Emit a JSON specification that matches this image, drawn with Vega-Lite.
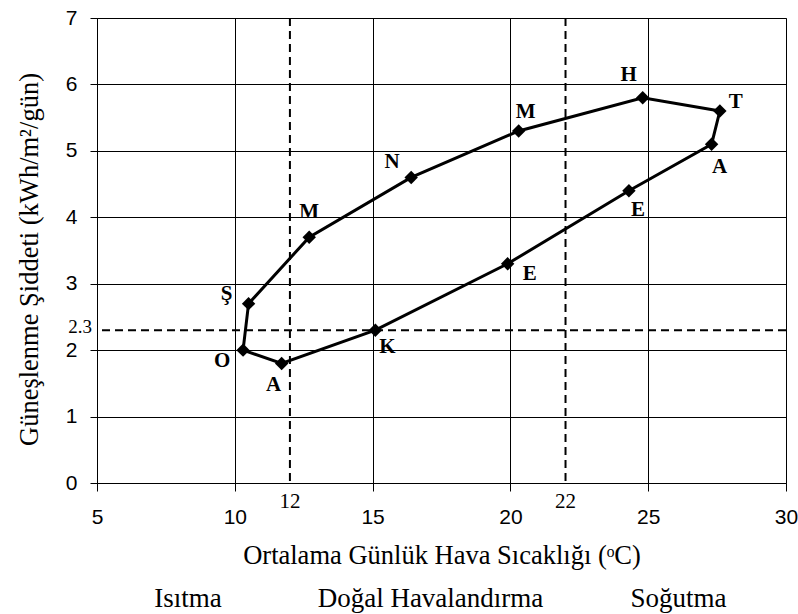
{
  "$schema": "https://vega.github.io/schema/vega-lite/v6.json",
  "width": 689,
  "height": 465,
  "autosize": {"type": "none"},
  "padding": {"left": 97, "top": 18, "right": 12, "bottom": 131},
  "background": "white",
  "config": {"view": {"stroke": "#808080", "strokeWidth": 1}},
  "datasets": {
    "months": [
      {"n": 1, "month": "Ocak", "label": "O", "temp": 10.3, "sun": 2.0},
      {"n": 2, "month": "Şubat", "label": "Ş", "temp": 10.5, "sun": 2.7},
      {"n": 3, "month": "Mart", "label": "M", "temp": 12.7, "sun": 3.7},
      {"n": 4, "month": "Nisan", "label": "N", "temp": 16.4, "sun": 4.6},
      {"n": 5, "month": "Mayıs", "label": "M", "temp": 20.3, "sun": 5.3},
      {"n": 6, "month": "Haziran", "label": "H", "temp": 24.8, "sun": 5.8},
      {"n": 7, "month": "Temmuz", "label": "T", "temp": 27.6, "sun": 5.6},
      {"n": 8, "month": "Ağustos", "label": "A", "temp": 27.3, "sun": 5.1},
      {"n": 9, "month": "Eylül", "label": "E", "temp": 24.3, "sun": 4.4},
      {"n": 10, "month": "Ekim", "label": "E", "temp": 19.9, "sun": 3.3},
      {"n": 11, "month": "Kasım", "label": "K", "temp": 15.1, "sun": 2.3},
      {"n": 12, "month": "Aralık", "label": "A", "temp": 11.7, "sun": 1.8},
      {"n": 13, "month": "Ocak", "label": "O", "temp": 10.3, "sun": 2.0}
    ],
    "vlines": [{"temp": 12, "label": "12"}, {"temp": 22, "label": "22"}],
    "hline": [{"sun": 2.3, "label": "2.3"}],
    "regions": [
      {"region": "Isıtma", "temp": 8.3},
      {"region": "Doğal Havalandırma", "temp": 17.1},
      {"region": "Soğutma", "temp": 26.1}
    ]
  },
  "layer": [
    {
      "data": {"name": "months"},
      "mark": {"type": "line", "color": "black", "strokeWidth": 3},
      "encoding": {
        "x": {
          "field": "temp", "type": "quantitative",
          "scale": {"domain": [5, 30], "nice": false, "zero": false},
          "axis": {
            "values": [5, 10, 15, 20, 25, 30], "format": "d",
            "grid": true, "gridColor": "black", "gridWidth": 1,
            "domainColor": "black", "tickColor": "black", "tickSize": 8,
            "labelFont": "Liberation Sans", "labelFontSize": 21, "labelColor": "black",
            "labelBaseline": "alphabetic", "labelPadding": 32, "labelFlush": false, "labelOverlap": false,
            "title": "Ortalama Günlük Hava Sıcaklığı (ᵒC)",
            "titleFont": "Liberation Serif", "titleFontSize": 26.5, "titleFontWeight": "normal",
            "titleColor": "black", "titleY": 80, "titleBaseline": "alphabetic"
          }
        },
        "y": {
          "field": "sun", "type": "quantitative",
          "scale": {"domain": [0, 7], "nice": false, "zero": false},
          "axis": {
            "values": [0, 1, 2, 3, 4, 5, 6, 7], "format": "d",
            "grid": true, "gridColor": "black", "gridWidth": 1,
            "domainColor": "black", "tickColor": "black", "tickSize": 7,
            "labelFont": "Liberation Sans", "labelFontSize": 21, "labelColor": "black",
            "labelPadding": 13, "labelFlush": false, "labelOverlap": false,
            "title": "Güneşlenme Şiddeti (kWh/m²/gün)",
            "titleFont": "Liberation Serif", "titleFontSize": 26.5, "titleFontWeight": "normal",
            "titleColor": "black", "titleX": -60, "titleY": 241, "titleBaseline": "alphabetic",
            "titleAlign": "center", "titleAngle": -90
          }
        },
        "order": {"field": "n", "type": "quantitative"}
      }
    },
    {
      "data": {"name": "months"},
      "transform": [{"filter": "datum.n <= 12"}],
      "mark": {"type": "point", "shape": "diamond", "filled": true, "color": "black", "size": 180, "opacity": 1},
      "encoding": {
        "x": {"field": "temp", "type": "quantitative"},
        "y": {"field": "sun", "type": "quantitative"}
      }
    },
    {
      "data": {"name": "vlines"},
      "mark": {"type": "rule", "color": "black", "strokeWidth": 2, "strokeDash": [8, 5]},
      "encoding": {"x": {"field": "temp", "type": "quantitative"}}
    },
    {
      "data": {"name": "hline"},
      "mark": {"type": "rule", "color": "black", "strokeWidth": 2, "strokeDash": [8, 5]},
      "encoding": {"y": {"field": "sun", "type": "quantitative"}}
    },
    {
      "data": {"name": "vlines"},
      "mark": {"type": "text", "font": "Liberation Serif", "fontSize": 21, "color": "black", "baseline": "alphabetic", "align": "center", "dy": 25},
      "encoding": {
        "x": {"field": "temp", "type": "quantitative"},
        "y": {"datum": 0},
        "text": {"field": "label"}
      }
    },
    {
      "data": {"name": "hline"},
      "mark": {"type": "text", "font": "Liberation Serif", "fontSize": 19, "color": "black", "baseline": "middle", "align": "right", "dx": -5, "dy": -3},
      "encoding": {
        "x": {"datum": 5},
        "y": {"field": "sun", "type": "quantitative"},
        "text": {"field": "label"}
      }
    },
    {
      "data": {"name": "regions"},
      "mark": {"type": "text", "font": "Liberation Serif", "fontSize": 27, "color": "black", "baseline": "alphabetic", "align": "center", "dy": 124},
      "encoding": {
        "x": {"field": "temp", "type": "quantitative"},
        "y": {"datum": 0},
        "text": {"field": "region"}
      }
    },
    {"data": {"name": "months"}, "transform": [{"filter": "datum.n == 1"}],
     "mark": {"type": "text", "font": "Liberation Serif", "fontWeight": "bold", "fontSize": 21, "color": "black", "baseline": "middle", "dx": -21, "dy": 11},
     "encoding": {"x": {"field": "temp", "type": "quantitative"}, "y": {"field": "sun", "type": "quantitative"}, "text": {"field": "label"}}},
    {"data": {"name": "months"}, "transform": [{"filter": "datum.n == 2"}],
     "mark": {"type": "text", "font": "Liberation Serif", "fontWeight": "bold", "fontSize": 21, "color": "black", "baseline": "middle", "dx": -22, "dy": -10},
     "encoding": {"x": {"field": "temp", "type": "quantitative"}, "y": {"field": "sun", "type": "quantitative"}, "text": {"field": "label"}}},
    {"data": {"name": "months"}, "transform": [{"filter": "datum.n == 3"}],
     "mark": {"type": "text", "font": "Liberation Serif", "fontWeight": "bold", "fontSize": 21, "color": "black", "baseline": "middle", "dx": 0, "dy": -25},
     "encoding": {"x": {"field": "temp", "type": "quantitative"}, "y": {"field": "sun", "type": "quantitative"}, "text": {"field": "label"}}},
    {"data": {"name": "months"}, "transform": [{"filter": "datum.n == 4"}],
     "mark": {"type": "text", "font": "Liberation Serif", "fontWeight": "bold", "fontSize": 21, "color": "black", "baseline": "middle", "dx": -19, "dy": -15},
     "encoding": {"x": {"field": "temp", "type": "quantitative"}, "y": {"field": "sun", "type": "quantitative"}, "text": {"field": "label"}}},
    {"data": {"name": "months"}, "transform": [{"filter": "datum.n == 5"}],
     "mark": {"type": "text", "font": "Liberation Serif", "fontWeight": "bold", "fontSize": 21, "color": "black", "baseline": "middle", "dx": 7, "dy": -19},
     "encoding": {"x": {"field": "temp", "type": "quantitative"}, "y": {"field": "sun", "type": "quantitative"}, "text": {"field": "label"}}},
    {"data": {"name": "months"}, "transform": [{"filter": "datum.n == 6"}],
     "mark": {"type": "text", "font": "Liberation Serif", "fontWeight": "bold", "fontSize": 21, "color": "black", "baseline": "middle", "dx": -14, "dy": -23},
     "encoding": {"x": {"field": "temp", "type": "quantitative"}, "y": {"field": "sun", "type": "quantitative"}, "text": {"field": "label"}}},
    {"data": {"name": "months"}, "transform": [{"filter": "datum.n == 7"}],
     "mark": {"type": "text", "font": "Liberation Serif", "fontWeight": "bold", "fontSize": 21, "color": "black", "baseline": "middle", "dx": 16, "dy": -9},
     "encoding": {"x": {"field": "temp", "type": "quantitative"}, "y": {"field": "sun", "type": "quantitative"}, "text": {"field": "label"}}},
    {"data": {"name": "months"}, "transform": [{"filter": "datum.n == 8"}],
     "mark": {"type": "text", "font": "Liberation Serif", "fontWeight": "bold", "fontSize": 21, "color": "black", "baseline": "middle", "dx": 8, "dy": 23},
     "encoding": {"x": {"field": "temp", "type": "quantitative"}, "y": {"field": "sun", "type": "quantitative"}, "text": {"field": "label"}}},
    {"data": {"name": "months"}, "transform": [{"filter": "datum.n == 9"}],
     "mark": {"type": "text", "font": "Liberation Serif", "fontWeight": "bold", "fontSize": 21, "color": "black", "baseline": "middle", "dx": 9, "dy": 19},
     "encoding": {"x": {"field": "temp", "type": "quantitative"}, "y": {"field": "sun", "type": "quantitative"}, "text": {"field": "label"}}},
    {"data": {"name": "months"}, "transform": [{"filter": "datum.n == 10"}],
     "mark": {"type": "text", "font": "Liberation Serif", "fontWeight": "bold", "fontSize": 21, "color": "black", "baseline": "middle", "dx": 22, "dy": 10},
     "encoding": {"x": {"field": "temp", "type": "quantitative"}, "y": {"field": "sun", "type": "quantitative"}, "text": {"field": "label"}}},
    {"data": {"name": "months"}, "transform": [{"filter": "datum.n == 11"}],
     "mark": {"type": "text", "font": "Liberation Serif", "fontWeight": "bold", "fontSize": 21, "color": "black", "baseline": "middle", "dx": 12, "dy": 17},
     "encoding": {"x": {"field": "temp", "type": "quantitative"}, "y": {"field": "sun", "type": "quantitative"}, "text": {"field": "label"}}},
    {"data": {"name": "months"}, "transform": [{"filter": "datum.n == 12"}],
     "mark": {"type": "text", "font": "Liberation Serif", "fontWeight": "bold", "fontSize": 21, "color": "black", "baseline": "middle", "dx": -8, "dy": 22},
     "encoding": {"x": {"field": "temp", "type": "quantitative"}, "y": {"field": "sun", "type": "quantitative"}, "text": {"field": "label"}}}
  ]
}
